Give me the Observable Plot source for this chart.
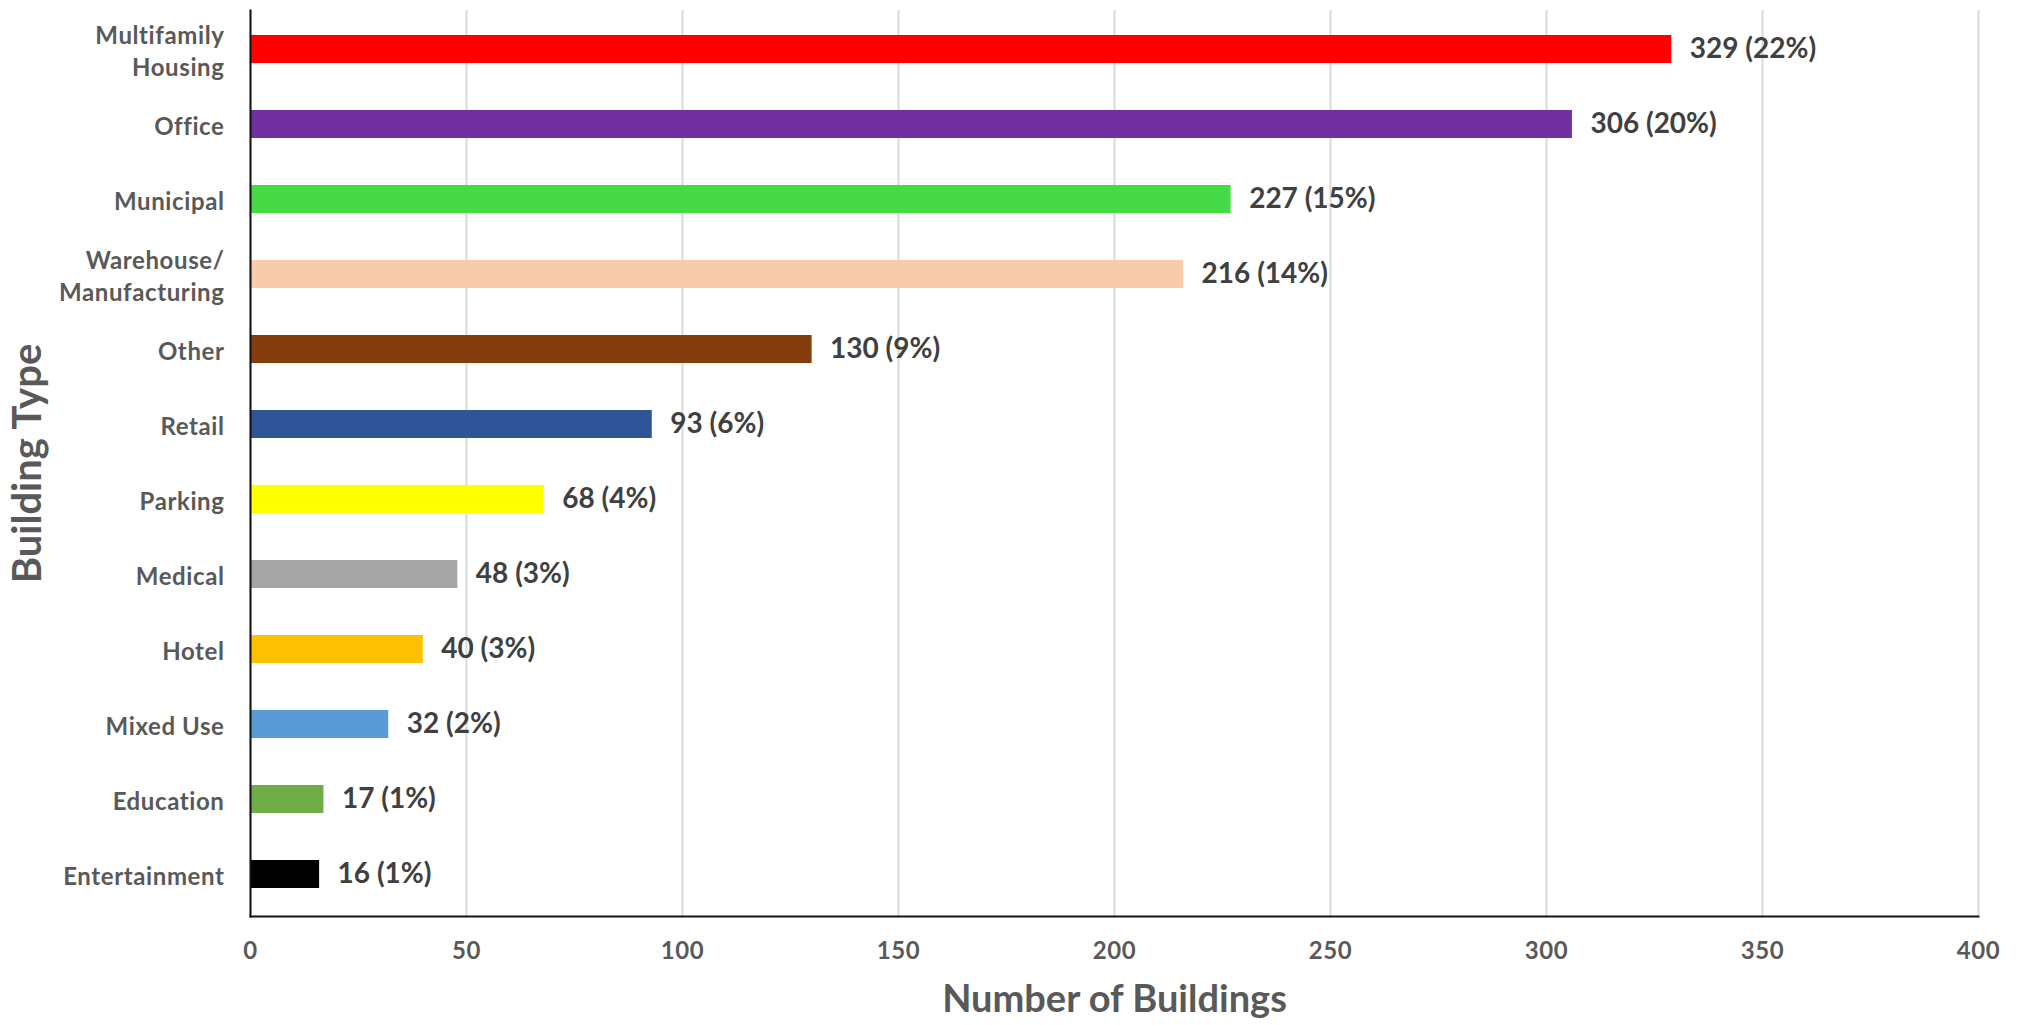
<!DOCTYPE html>
<html>
<head>
<meta charset="utf-8">
<script src="https://cdn.jsdelivr.net/npm/d3@7"></script>
<script src="https://cdn.jsdelivr.net/npm/@observablehq/plot@0.6"></script>
<style>
  html, body { margin: 0; padding: 0; background: #fff; }
  #chart svg { display: block; }
  #chart g[aria-label="y-axis tick label"] text,
  #chart g[aria-label="x-axis tick label"] text { letter-spacing: 0.6px; }
</style>
</head>
<body>
<div id="chart"></div>
<script>
const categories = ["Multifamily\nHousing", "Office", "Municipal", "Warehouse/\nManufacturing", "Other", "Retail", "Parking", "Medical", "Hotel", "Mixed Use", "Education", "Entertainment"];
const values = [329, 306, 227, 216, 130, 93, 68, 48, 40, 32, 17, 16];
const percents = ["22%", "20%", "15%", "14%", "9%", "6%", "4%", "3%", "3%", "2%", "1%", "1%"];
const colors = ["#FF0000", "#7030A0", "#47DA47", "#F8CBAD", "#843C0C", "#2F5597", "#FFFF00", "#A5A5A5", "#FFC000", "#5B9BD5", "#70AD47", "#000000"];
const xTicks = [0, 50, 100, 150, 200, 250, 300, 350, 400];
const xTitle = "Number of Buildings";
const yTitle = "Building Type";

const data = categories.map((c, i) => ({
  category: c,
  value: values[i],
  label: `${values[i]} (${percents[i]})`,
  color: colors[i]
}));

const font = "Lato, 'Open Sans', sans-serif";

const chart = Plot.plot({
  width: 2018,
  height: 1025,
  marginLeft: 250,
  marginRight: 40,
  marginTop: 10,
  marginBottom: 109,
  style: { fontFamily: font, background: "#fff" },
  x: { domain: [0, 400] },
  y: { domain: categories, paddingInner: 0.626, paddingOuter: 0.3056, align: 0.48 },
  color: { type: "identity" },
  marks: [
    Plot.gridX(xTicks, { stroke: "#d9d9d9", strokeOpacity: 1, strokeWidth: 2 }),
    Plot.barX(data, { x: "value", y: "category", fill: "color" }),
    Plot.text(data, {
      x: "value", y: "category", text: "label",
      textAnchor: "start", dx: 18,
      fontSize: 28, fontWeight: "bold", fill: "#404040"
    }),
    Plot.frame({ anchor: "left", stroke: "#111", strokeWidth: 2 }),
    Plot.frame({ anchor: "bottom", stroke: "#111", strokeWidth: 2 }),
    Plot.axisX(xTicks, {
      tickSize: 0, tickPadding: 25, label: null,
      fontSize: 24, fontWeight: "bold", fill: "#595959"
    }),
    Plot.axisY({
      tickSize: 0, tickPadding: 26, label: null,
      fontSize: 24, fontWeight: "bold", fill: "#595959", lineHeight: 1.33
    }),
    Plot.text([xTitle], {
      frameAnchor: "bottom", dy: 95,
      fontSize: 38, fontWeight: "bold", fill: "#595959"
    }),
    Plot.text([yTitle], {
      frameAnchor: "left", textAnchor: "middle", dx: -222, rotate: -90,
      fontSize: 40, fontWeight: "bold", fill: "#595959"
    })
  ]
});

document.getElementById("chart").appendChild(chart);
</script>
</body>
</html>
